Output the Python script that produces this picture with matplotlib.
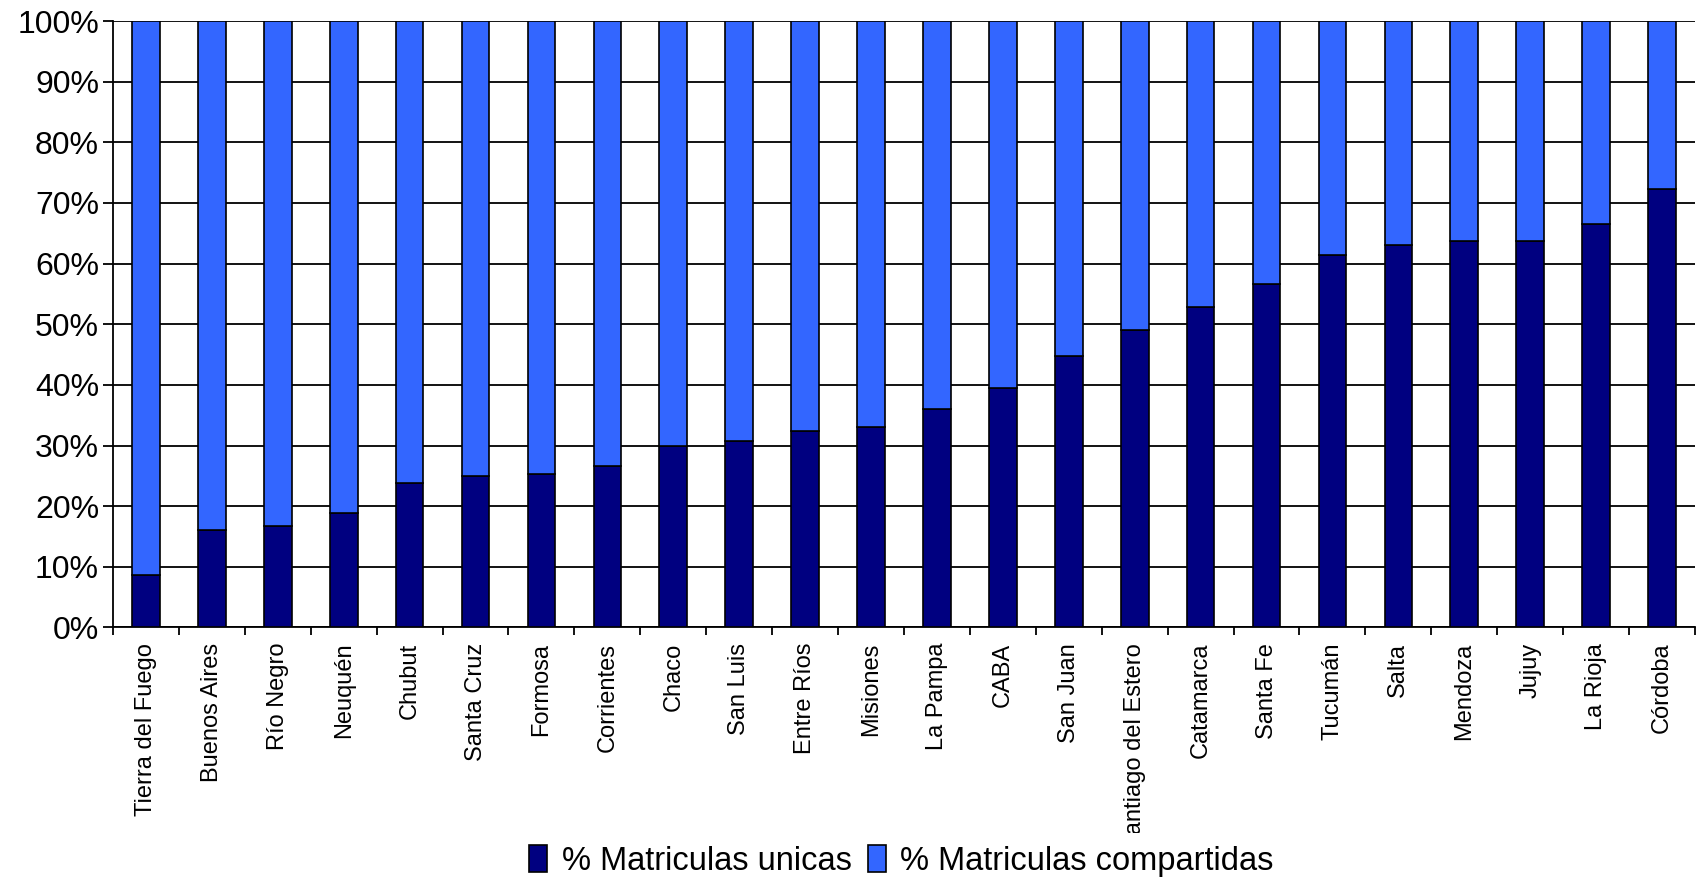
import matplotlib
matplotlib.use('Agg')
import matplotlib.pyplot as plt
from matplotlib.patches import Patch
from matplotlib.transforms import Bbox, TransformedBbox
import numpy as np

# Provinces, sorted by share of single enrolments
provincias = ['Tierra del Fuego', 'Buenos Aires', 'Río Negro', 'Neuquén', 'Chubut',
              'Santa Cruz', 'Formosa', 'Corrientes', 'Chaco', 'San Luis', 'Entre Ríos',
              'Misiones', 'La Pampa', 'CABA', 'San Juan', 'Santiago del Estero',
              'Catamarca', 'Santa Fe', 'Tucumán', 'Salta', 'Mendoza', 'Jujuy',
              'La Rioja', 'Córdoba']
unicas = [8.6, 16.1, 16.8, 18.9, 23.9, 24.9, 25.3, 26.7, 30.0, 30.7, 32.4, 33.1,
          36.1, 39.5, 44.7, 49.1, 52.9, 56.6, 61.4, 63.1, 63.8, 63.8, 66.6, 72.3]
compartidas = [100 - v for v in unicas]

plt.rcParams['font.family'] = ['Liberation Sans', 'DejaVu Sans']

fig = plt.figure(figsize=(17.04, 8.77), dpi=100)
ax = fig.add_axes([0.0663, 0.2845, 0.9284, 0.6915])

x = np.arange(len(provincias))
ax.bar(x, unicas, width=0.42, color='#000080', edgecolor='black', linewidth=1.2, zorder=3)
ax.bar(x, compartidas, width=0.42, bottom=unicas, color='#3366FF', edgecolor='black',
       linewidth=1.2, zorder=3)

ax.set_xlim(-0.5, len(provincias) - 0.5)
ax.set_ylim(0, 100)

# y axis: percent ticks with black gridlines
ax.set_yticks(np.arange(0, 101, 10))
ax.set_yticklabels([f'{v}%' for v in range(0, 101, 10)], fontsize=23)
ax.yaxis.grid(True, color='black', linewidth=1.3, zorder=0)
ax.tick_params(axis='y', direction='out', length=7, width=1.3, pad=3)

# x axis: ticks on category boundaries, labels rotated
ax.set_xticks(x)
ax.set_xticklabels(provincias, rotation=90, fontsize=17, va='top')
ax.set_xticks(np.arange(-0.5, len(provincias)), minor=True)
ax.tick_params(axis='x', which='major', length=0, pad=11)
ax.tick_params(axis='x', which='minor', direction='out', length=6, width=1.3)

for s in ['top', 'right']:
    ax.spines[s].set_visible(False)
for s in ['left', 'bottom']:
    ax.spines[s].set_linewidth(1.3)
    ax.spines[s].set_color('black')

# long labels get cut above the legend, as in the original
clip = TransformedBbox(Bbox([[0, 0.05], [1, 1]]), fig.transFigure)
for lab in ax.get_xticklabels():
    lab.set_clip_box(clip)
    lab.set_clip_on(True)

handles = [Patch(facecolor='#000080', edgecolor='black', linewidth=1.2),
           Patch(facecolor='#3366FF', edgecolor='black', linewidth=1.2)]
fig.legend(handles, ['% Matriculas unicas', '% Matriculas compartidas'],
           loc='center', bbox_to_anchor=(0.529, 0.018), ncol=2, frameon=False,
           fontsize=23.5, handlelength=0.55, handleheight=0.9, handletextpad=0.45,
           columnspacing=0.5)

fig.savefig('out.png', dpi=100)
